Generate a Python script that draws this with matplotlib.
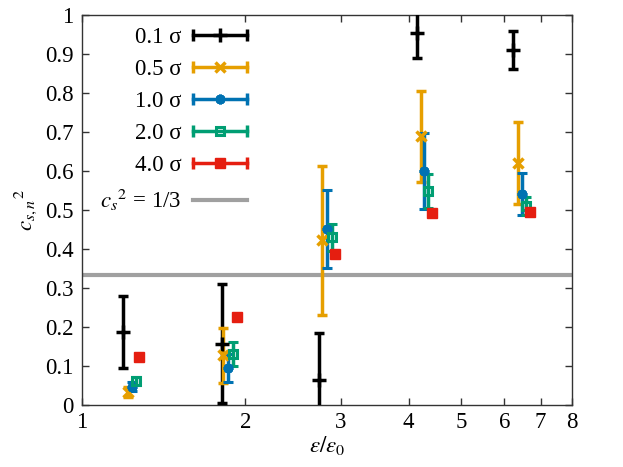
import matplotlib
matplotlib.use("Agg")
import matplotlib.pyplot as plt
from matplotlib.lines import Line2D
from matplotlib.legend_handler import HandlerLine2D, HandlerTuple
from matplotlib.ticker import FixedLocator, FuncFormatter, NullLocator

plt.rcParams['font.family'] = ['Liberation Serif', 'DejaVu Serif']
plt.rcParams['mathtext.fontset'] = 'stix'
plt.rcParams['font.size'] = 16.5

# energy density ratio eps/eps0 for each smoothing width
labels = ["0.1 σ", "0.5 σ", "1.0 σ", "2.0 σ", "4.0 σ"]
x_01 = [1.19, 1.81, 2.73, 4.14, 6.24]
x_05 = [1.214, 1.82, 2.765, 4.21, 6.37]
x_10 = [1.235, 1.861, 2.825, 4.27, 6.46]
x_20 = [1.258, 1.896, 2.885, 4.35, 6.58]
x_40 = [1.275, 1.928, 2.926, 4.42, 6.69]

# squared speed of sound and its error
y_01 = [0.188, 0.157, 0.064, 0.953, 0.910]
e_01 = [0.092, 0.153, 0.120, 0.063, 0.048]
y_05 = [0.034, 0.127, 0.422, 0.689, 0.620]
e_05 = [0.013, 0.071, 0.190, 0.116, 0.105]
y_10 = [0.047, 0.095, 0.450, 0.600, 0.540]
e_10 = [0.012, 0.035, 0.100, 0.097, 0.054]
y_20 = [0.062, 0.131, 0.430, 0.548, 0.510]
e_20 = [0.010, 0.031, 0.034, 0.044, 0.023]
y_40 = [0.122, 0.226, 0.387, 0.493, 0.496]
e_40 = [0.006, 0.010, 0.008, 0.010, 0.006]

cs2 = 1 / 3

series = [
    (x_01, y_01, e_01, "black", dict(marker="+", ms=10, mew=2.5)),
    (x_05, y_05, e_05, "#e69f00", dict(marker="x", ms=6.5, mew=2.5)),
    (x_10, y_10, e_10, "#0072b2", dict(marker=(8, 2, 0), ms=7, mew=2.2)),
    (x_20, y_20, e_20, "#009e73", dict(marker="s", ms=6, mew=2.2, mfc="none")),
    (x_40, y_40, e_40, "#e51e10", dict(marker="s", ms=6.5, mew=1.0)),
]

fig = plt.figure(figsize=(6.23, 4.67), dpi=100)
ax = fig.add_axes([0.1316, 0.1328, 0.7865, 0.8351])

ax.axhline(cs2, color="#a0a0a0", lw=3, zorder=1)

handles = []
hmap = {}
for (xs, ys, es, c, mk), lab in zip(series, labels):
    ax.errorbar(xs, ys, yerr=es, color=c, lw=2.5, capsize=3.5, capthick=2.5,
                ls="none", zorder=3, **mk)
    bar = Line2D([], [], color=c, lw=2.5, marker="|", ms=8, mew=2.5)
    mid = Line2D([], [], color=c, ls="none", **mk)
    hmap[bar] = HandlerLine2D(numpoints=2, marker_pad=0)
    hmap[mid] = HandlerLine2D(numpoints=1)
    handles.append((bar, mid))
gray = Line2D([], [], color="#a0a0a0", lw=3)
handles.append(gray)
labels_all = labels + [r"$c_s{}^2$ = 1/3"]
for h in handles[:-1]:
    hmap[h] = HandlerTuple(ndivide=1)

ax.legend(handles, labels_all, handler_map=hmap, loc="upper right",
          bbox_to_anchor=(0.337, 0.97), frameon=False, markerfirst=False,
          handlelength=2.36, labelspacing=0.48, handletextpad=0.5,
          borderaxespad=0, borderpad=0)

ax.set_xscale("log")
ax.set_xlim(1, 8)
ax.set_ylim(0, 1)
ax.xaxis.set_major_locator(FixedLocator([1, 2, 3, 4, 5, 6, 7, 8]))
ax.xaxis.set_minor_locator(NullLocator())
ax.xaxis.set_major_formatter(FuncFormatter(lambda v, p: "%g" % v))
ax.set_yticks([i / 10 for i in range(11)])
ax.yaxis.set_major_formatter(FuncFormatter(lambda v, p: "%g" % v))
ax.tick_params(direction="in", top=True, right=True, length=5, width=1,
               color="#333333")
ax.tick_params(axis="y", pad=6)
ax.tick_params(axis="x", pad=5)
for s in ax.spines.values():
    s.set_color("#333333")
    s.set_linewidth(1)

ax.set_xlabel(r"$\varepsilon/\varepsilon_0$", labelpad=1)
ax.set_ylabel(r"$c_{s,n}{}^2$", labelpad=4)

fig.savefig("out.png", dpi=100)
